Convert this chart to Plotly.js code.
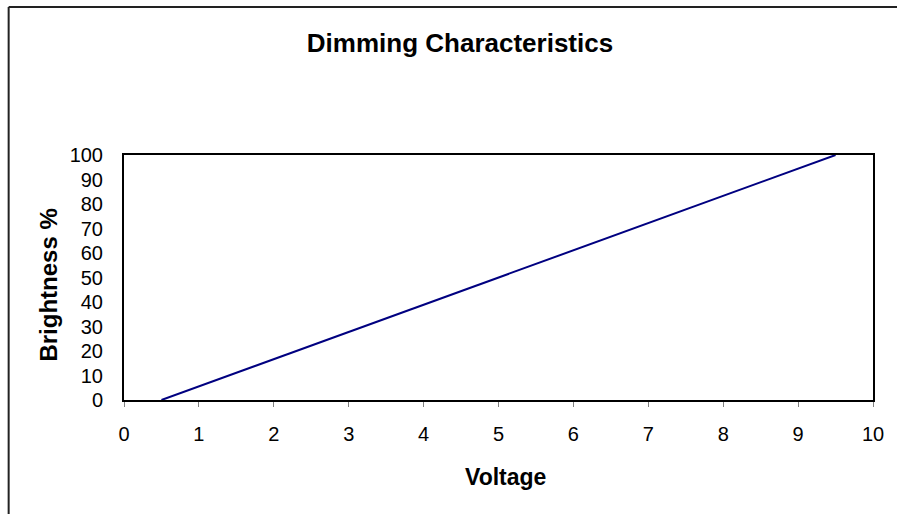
<!DOCTYPE html>
<html>
<head>
<meta charset="utf-8">
<script src="https://cdn.plot.ly/plotly-3.0.1.min.js"></script>
<style>html,body{margin:0;padding:0;background:#fff;}#chart{width:897px;height:514px;}</style>
</head>
<body>
<div id="chart"></div>
<script>
const voltage = [0.5, 9.5];
const brightness = [0, 100];
const xTicks = [0, 1, 2, 3, 4, 5, 6, 7, 8, 9, 10];
const yTicks = [0, 10, 20, 30, 40, 50, 60, 70, 80, 90, 100];

const W = 897, H = 514;
const L = 123.5, R = 873.5, T = 155, B = 400;
const pw = R - L, ph = B - T;

const font = {family: 'Arial, "Liberation Sans", sans-serif', color: '#000'};

const trace = {
  x: voltage, y: brightness, type: 'scatter', mode: 'lines',
  line: {color: '#000080', width: 2}, showlegend: false, hoverinfo: 'skip'
};

const bx = (8 - L) / pw, by = (B - 7) / ph;
const layout = {
  width: W, height: H,
  margin: {l: L, r: W - R, t: T, b: H - B, pad: 0},
  paper_bgcolor: '#fff', plot_bgcolor: '#fff',
  font: Object.assign({size: 20}, font),
  title: {text: '<b>Dimming Characteristics</b>', font: Object.assign({size: 26}, font),
          x: 460 / W, xanchor: 'center', y: 1 - 43 / H, yanchor: 'middle', yref: 'container'},
  xaxis: {
    range: [0, 10], tickvals: xTicks, ticktext: xTicks.map(String),
    showgrid: false, zeroline: false, showline: true, mirror: true,
    linecolor: '#000', linewidth: 2,
    ticks: 'outside', ticklen: 5, tickcolor: '#808080', tickwidth: 1,
    ticklabelstandoff: 10, tickfont: Object.assign({size: 20}, font)
  },
  yaxis: {
    range: [0, 100], tickvals: yTicks, ticktext: yTicks.map(String),
    showgrid: false, zeroline: false, showline: true, mirror: true,
    linecolor: '#000', linewidth: 2, ticks: '',
    ticklabelstandoff: 15, tickfont: Object.assign({size: 20}, font)
  },
  annotations: [
    {text: '<b>Voltage</b>', xref: 'paper', yref: 'paper',
     x: (506 - L) / pw, y: (B - 477) / ph, xanchor: 'center', yanchor: 'middle',
     showarrow: false, font: Object.assign({size: 23}, font)},
    {text: '<b>Brightness %</b>', xref: 'paper', yref: 'paper', textangle: -90,
     x: (47 - L) / pw, y: (B - 285) / ph, xanchor: 'center', yanchor: 'middle',
     showarrow: false, font: Object.assign({size: 24}, font)}
  ],
  shapes: [
    {type: 'line', xref: 'paper', yref: 'paper', layer: 'below',
     x0: bx, x1: bx, y0: (B - (H + 40)) / ph, y1: by,
     line: {color: '#222', width: 2}},
    {type: 'line', xref: 'paper', yref: 'paper', layer: 'below',
     x0: bx, x1: (W + 40 - L) / pw, y0: by, y1: by,
     line: {color: '#222', width: 2}}
  ]
};

Plotly.newPlot('chart', [trace], layout, {displayModeBar: false, staticPlot: true});
</script>
</body>
</html>
